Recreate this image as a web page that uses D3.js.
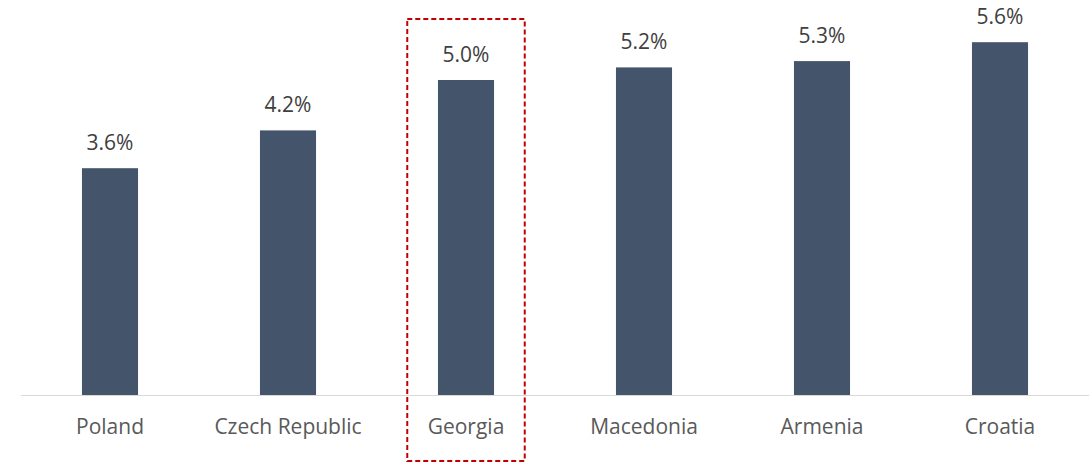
<!DOCTYPE html>
<html>
<head>
<meta charset="utf-8">
<script src="https://cdn.jsdelivr.net/npm/d3@7"></script>
<style>
  html, body { margin: 0; padding: 0; background: #ffffff; }
  svg { display: block; }
</style>
</head>
<body>
<svg id="chart" width="1089" height="464"></svg>
<script>
// Chart data
const countries = ["Poland", "Czech Republic", "Georgia", "Macedonia", "Armenia", "Croatia"];
const rates = [3.6, 4.2, 5.0, 5.2, 5.3, 5.6];
const highlighted = ["Georgia"];

const width = 1089, height = 464;
const baseY = 395, topY = 17;

const svg = d3.select("#chart");

const x = d3.scaleBand()
  .domain(countries)
  .range([21, width])
  .paddingInner(0.685)
  .paddingOuter(0.3425);

const y = d3.scaleLinear()
  .domain([0, 6])
  .range([baseY, topY]);

const data = countries.map((c, i) => ({ country: c, value: rates[i] }));

// Bars
svg.append("g")
  .selectAll("rect")
  .data(data)
  .join("rect")
  .attr("x", d => x(d.country))
  .attr("y", d => y(d.value))
  .attr("width", x.bandwidth())
  .attr("height", d => y(0) - y(d.value))
  .attr("fill", "#44546a");

// Category axis
const xAxis = svg.append("g")
  .attr("transform", `translate(0,${baseY})`)
  .call(d3.axisBottom(x).tickSize(0).tickPadding(0).tickSizeOuter(0));
xAxis.select(".domain")
  .attr("d", `M${x.range()[0]},0.5H${x.range()[1]}`)
  .attr("stroke", "#d9d9d9")
  .attr("stroke-width", 1.2);
xAxis.selectAll(".tick text")
  .attr("dy", null)
  .attr("y", 39)
  .attr("font-family", "'Open Sans', sans-serif")
  .attr("font-size", 21)
  .attr("fill", "#595959");

// Value labels
svg.append("g")
  .selectAll("text")
  .data(data)
  .join("text")
  .attr("x", d => x(d.country) + x.bandwidth() / 2)
  .attr("y", d => y(d.value) - 18)
  .attr("text-anchor", "middle")
  .attr("font-family", "'Open Sans', sans-serif")
  .attr("font-size", 21)
  .attr("fill", "#404040")
  .text(d => d.value.toFixed(1) + "%");

// Dashed highlight frame
svg.append("g")
  .selectAll("rect")
  .data(highlighted)
  .join("rect")
  .attr("x", d => x(d) + x.bandwidth() / 2 - x.step() * 0.33)
  .attr("y", 19)
  .attr("width", x.step() * 0.66)
  .attr("height", 442)
  .attr("fill", "none")
  .attr("stroke", "#c00000")
  .attr("stroke-width", 2)
  .attr("stroke-dasharray", "5,3");
</script>
</body>
</html>
